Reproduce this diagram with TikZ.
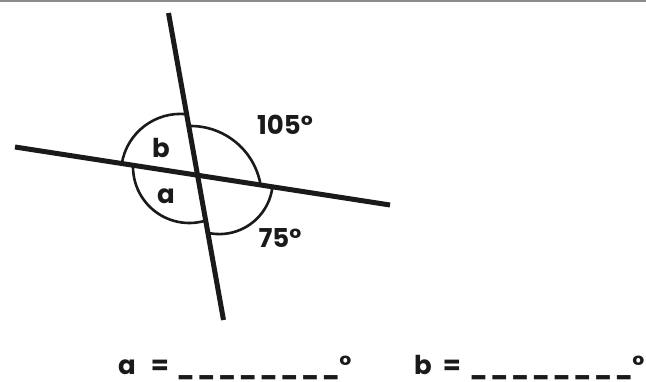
\documentclass[tikz,border=0pt]{standalone}
\usepackage{fontspec}
\setmainfont{Poppins}
\usetikzlibrary{calc}
\definecolor{Ink}{HTML}{1A1A1A}
\definecolor{Rule}{HTML}{8C8C8C}
\newcommand{\dashpiece}{\scalebox{0.85}[1]{\_}}
\newcommand{\dashbit}{\dashpiece\kern3.5pt}
\newcommand{\answerblank}{\dashbit\dashbit\dashbit\dashbit\dashbit\dashbit\dashbit\dashpiece}

\begin{document}
\begin{tikzpicture}[x=1pt,y=-1pt,
    bigline/.style={Ink,line width=5pt},
    anglearc/.style={Ink,line width=2.6pt},
    lbl/.style={Ink,font=\fontsize{26}{30}\selectfont\bfseries,inner sep=0pt}]
  \useasboundingbox (0,0) rectangle (646,382);
  \fill[white] (0,0) rectangle (646,382);
  \draw[Rule,line width=2.5pt] (0,1.25) -- (646,1.25);
  % the two crossing lines
  \coordinate (s1) at (168.5,13);
  \coordinate (s2) at (223.5,320);
  \coordinate (h1) at (15,147);
  \coordinate (h2) at (390,205);
  \draw[bigline] (s1) -- (s2);
  \draw[bigline] (h1) -- (h2);
  % angle arcs, each round its own centre
  \coordinate (cb) at (180.4,173.3);
  \coordinate (cr) at (190.7,196.9);
  \coordinate (ca) at (189.3,166.7);
  \coordinate (cs) at (219.3,180.6);
  \draw[anglearc] (cb) ++(189.6:59.4) arc[start angle=189.6,end angle=276,radius=59.4];
  \draw[anglearc] (cr) ++(268.4:70.9) arc[start angle=268.4,end angle=350.3,radius=70.9];
  \draw[anglearc] (ca) ++(182.3:56.3) arc[start angle=182.3,end angle=73.1,radius=56.3];
  \draw[anglearc] (cs) ++(6.7:53.5) arc[start angle=6.7,end angle=102.3,radius=53.5];
  % labels
  \node[lbl] (lb) at (161,148) {b};
  \node[lbl] (la) at (166,196) {a};
  \node[lbl] (l105) at (285,125) {105°};
  \node[lbl] (l75) at (280,238) {75°};
  % answers
  \node[lbl,anchor=base west] (qa) at (118,374) {a\kern15pt=\kern8pt\answerblank°};
  \node[lbl,anchor=base west] (qb) at (414,374) {b\kern11pt=\kern9pt\answerblank°};
\end{tikzpicture}
\end{document}
